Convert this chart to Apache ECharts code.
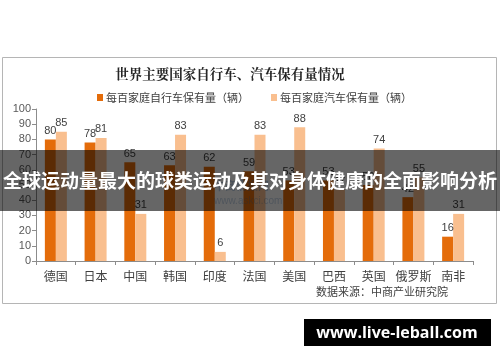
<!DOCTYPE html>
<html><head><meta charset="utf-8">
<script src="https://cdn.jsdelivr.net/npm/echarts@6/dist/echarts.min.js"></script>
<style>html,body{margin:0;padding:0;background:#fff}#c{width:500px;height:362px}</style>
</head><body><div id="c"></div>
<script>
var categories = ['德国','日本','中国','韩国','印度','法国','美国','巴西','英国','俄罗斯','南非'];
var bikeValues = [80,78,65,63,62,59,53,53,50,42,16];
var carValues  = [85,81,31,83,6,83,88,47,74,55,31];
var yTicks = [0,10,20,30,40,50,60,70,80,90,100];
var seriesNames = ['每百家庭自行车保有量（辆）','每百家庭汽车保有量（辆）'];
var titleText = '世界主要国家自行车、汽车保有量情况';
var sourceText = '数据来源：中商产业研究院';
var overlayText = '全球运动量最大的球类运动及其对身体健康的全面影响分析';
var siteText = 'www.live-leball.com';

var font = '"Noto Sans CJK SC", "Microsoft YaHei", sans-serif';
var chart = echarts.init(document.getElementById('c'), null, {renderer:'canvas'});
chart.setOption({
  animation:false,
  backgroundColor:'#fff',
  title:{text:titleText,left:225,top:62,textAlign:'center',
    textStyle:{fontFamily:'"Noto Serif CJK SC","Noto Sans CJK SC",serif',fontSize:13.5,fontWeight:'bold',color:'#262626'}},
  legend:{top:87,left:92,itemWidth:6,itemHeight:7,itemGap:22,icon:'rect',
    textStyle:{fontFamily:font,fontSize:11,color:'#404040',padding:[0,0,0,-2]},
    data:seriesNames},
  grid:{left:36,right:27,top:109,bottom:101},
  xAxis:{type:'category',data:categories,
    axisLine:{lineStyle:{color:'#8c8c8c'}},
    axisTick:{show:true,alignWithLabel:false,lineStyle:{color:'#8c8c8c'},length:4},
    axisLabel:{interval:0,fontFamily:font,fontSize:12,color:'#404040',margin:9}},
  yAxis:{type:'value',min:0,max:100,interval:10,
    axisLine:{show:true,lineStyle:{color:'#8c8c8c'}},
    axisTick:{show:true,inside:false,length:4,lineStyle:{color:'#8c8c8c'}},
    splitLine:{show:false},
    axisLabel:{fontFamily:'Liberation Sans, Arial, sans-serif',fontSize:11,color:'#595959',margin:5,
      formatter:function(v){return yTicks.indexOf(v)>=0?String(v):'';}}},
  series:[
    {name:seriesNames[0],type:'bar',data:bikeValues,barWidth:11,barGap:'0%',
     itemStyle:{color:'#E46C0A'},
     label:{show:true,position:'top',distance:3,fontFamily:'Liberation Sans, Arial, sans-serif',fontSize:11,color:'#404040'}},
    {name:seriesNames[1],type:'bar',data:carValues,barWidth:11,
     itemStyle:{color:'#F9BF8F'},
     label:{show:true,position:'top',distance:3,fontFamily:'Liberation Sans, Arial, sans-serif',fontSize:11,color:'#404040'}}
  ],
  graphic:[
    {type:'rect',shape:{x:2.5,y:57.5,width:494,height:246},style:{fill:null,stroke:'#b5b5b5',lineWidth:1},z:-1},
    {type:'text',left:316,top:286,style:{text:sourceText,font:'11px '+font,fill:'#404040'}},
    {type:'text',left:214,top:180,z:50,style:{text:'中商情报网',font:'bold 11px '+font,fill:'rgba(60,110,170,0.35)'}},
    {type:'text',left:214,top:196,z:50,style:{text:'www.askci.com',font:'10px sans-serif',fill:'rgba(60,110,170,0.3)'}},
    {type:'rect',shape:{x:0,y:150,width:500,height:61},style:{fill:'rgba(0,0,0,0.6)'},z:100},
    {type:'text',x:250,y:181,z:101,style:{text:overlayText,font:'bold 19px '+font,fill:'#fff',align:'center',verticalAlign:'middle'}},
    {type:'rect',shape:{x:304,y:319,width:187,height:27},style:{fill:'#000'},z:100},
    {type:'text',x:397,y:333,z:101,style:{text:siteText,font:'bold 16px "Open Sans", "DejaVu Sans", sans-serif',fill:'#fff',align:'center',verticalAlign:'middle'}}
  ]
});
</script></body></html>
